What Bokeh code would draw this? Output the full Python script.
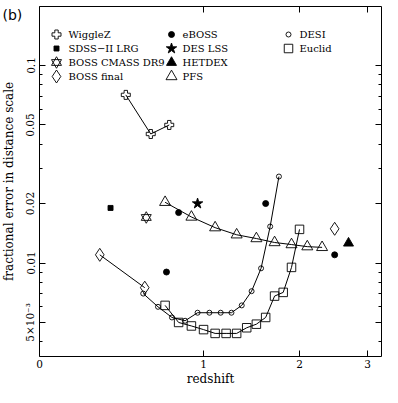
from math import log10
from bokeh.plotting import figure
from bokeh.models import Range1d, FixedTicker, CustomJSTickFormatter, LogAxis, Label
from bokeh.core.properties import value
from bokeh.embed import file_html
from bokeh.resources import INLINE

# ---------------- data (redshift z, fractional error) ----------------
wigglez_z = [0.44, 0.60, 0.73]
wigglez_err = [0.071, 0.045, 0.050]

sdss_z = [0.35]
sdss_err = [0.019]

cmass_z = [0.57]
cmass_err = [0.017]

bossf_z = [0.29, 0.56]
bossf_err = [0.011, 0.0075]
bossf_lya_z = [2.48]
bossf_lya_err = [0.0149]

eboss_z = [0.71, 0.80, 1.60, 2.48]
eboss_err = [0.0090, 0.0180, 0.0200, 0.0110]

des_z = [0.95]
des_err = [0.0200]

hetdex_z = [2.69]
hetdex_err = [0.0126]

pfs_z = [0.7, 0.9, 1.1, 1.3, 1.5, 1.7, 1.9, 2.1, 2.3]
pfs_err = [0.0203, 0.0171, 0.0151, 0.0139, 0.0133, 0.0127, 0.0124, 0.0121, 0.0120]

desi_z = [0.55, 0.65, 0.75, 0.85, 0.95, 1.05, 1.15, 1.25, 1.35, 1.45, 1.55, 1.65, 1.75]
desi_err = [0.0070, 0.0060, 0.0053, 0.0051, 0.0056, 0.0056, 0.0056, 0.0056,
            0.0061, 0.0072, 0.0094, 0.0153, 0.0274]

euclid_z = [0.7, 0.8, 0.9, 1.0, 1.1, 1.2, 1.3, 1.4, 1.5, 1.6, 1.7, 1.8, 1.9, 2.0]
euclid_err = [0.0061, 0.0050, 0.0048, 0.0046, 0.0044, 0.0044, 0.0044, 0.0047,
              0.0049, 0.0053, 0.0068, 0.0071, 0.0095, 0.0148]

x_tick_labels = ["0", "1", "2", "3"]
y_major_ticks = [0.005, 0.01, 0.02, 0.05, 0.1]
y_minor_ticks = [0.004, 0.006, 0.007, 0.008, 0.009, 0.03, 0.04, 0.06, 0.07, 0.08, 0.09]

legend_col1 = ["WiggleZ", "SDSS\u2212II LRG", "BOSS CMASS DR9", "BOSS final"]
legend_col2 = ["eBOSS", "DES LSS", "HETDEX", "PFS"]
legend_col3 = ["DESI", "Euclid"]

# ---------------- layout (canvas pixels) ----------------
W, H = 382, 387
BOX_L, BOX_R, BOX_T, BOX_B = 39, 381, 6, 356     # the drawn plot box
PXDEC_X, PXDEC_Y = 545.0, 197.5                  # pixels per decade
Y_REF_PX, Y_REF_VAL = 65.0, 0.1                  # where 0.1 sits


def px_to_x(px):      # canvas x pixel -> (1+z)
    return 10 ** ((px - BOX_L) / PXDEC_X)


def py_to_y(py):      # canvas y pixel (from top) -> error
    return 10 ** (log10(Y_REF_VAL) - (py - Y_REF_PX) / PXDEC_Y)


XB0, XB1 = px_to_x(BOX_L), px_to_x(BOX_R)
YB0, YB1 = py_to_y(BOX_B), py_to_y(BOX_T)

FONT = "DejaVu Serif"

p = figure(width=W, height=H, x_axis_type="log", y_axis_type="log",
           x_range=Range1d(px_to_x(0), px_to_x(W)),
           y_range=Range1d(py_to_y(H), py_to_y(0)),
           output_backend="svg", toolbar_location=None,
           min_border_left=0, min_border_right=0,
           min_border_top=0, min_border_bottom=0)
p.grid.visible = False
p.outline_line_color = None
p.background_fill_color = "white"
p.border_fill_color = "white"

xticker = FixedTicker(ticks=[1, 2, 3, 4], minor_ticks=[])
yticker = FixedTicker(ticks=y_major_ticks, minor_ticks=y_minor_ticks)

xa = p.xaxis[0]
xa.ticker = xticker
xa.formatter = CustomJSTickFormatter(args=dict(labels=x_tick_labels),
                                     code="return labels[Math.round(tick) - 1];")
xa.axis_label = "redshift"
xa.fixed_location = YB0
xa.bounds = (XB0, XB1)

ya = p.yaxis[0]
ya.ticker = yticker
ya.formatter = CustomJSTickFormatter(
    code="if (Math.abs(tick - 0.005) < 1e-9) { return '5\u00d710\u207b\u00b3'; } return String(tick);")
ya.axis_label = "fractional error in distance scale"
ya.major_label_orientation = "vertical"
ya.fixed_location = XB0
ya.bounds = (YB0, YB1)

for ax in (xa, ya):
    ax.axis_line_color = "black"
    ax.axis_line_width = 1
    ax.major_tick_in = 6
    ax.major_tick_out = 0
    ax.minor_tick_in = 3
    ax.minor_tick_out = 0
    ax.major_tick_line_color = "black"
    ax.minor_tick_line_color = "black"
    ax.major_label_text_font = FONT
    ax.major_label_text_font_size = "10.5px"
    ax.major_label_text_color = "black"
    ax.axis_label_text_font = FONT
    ax.axis_label_text_font_size = "12px"
    ax.axis_label_text_font_style = "normal"
    ax.axis_label_text_color = "black"
xa.major_label_standoff = 3
xa.axis_label_standoff = 1
ya.major_label_standoff = 3
ya.axis_label_standoff = 6

for loc, tk, fixed, bnd in (("above", xticker, YB1, (XB0, XB1)),
                            ("right", yticker, XB1, (YB0, YB1))):
    ax = LogAxis(ticker=tk, fixed_location=fixed, bounds=bnd,
                 formatter=CustomJSTickFormatter(code="return '';"),
                 major_label_text_font_size="0px", major_label_standoff=0,
                 axis_label_standoff=0, axis_line_color="black", axis_line_width=1,
                 major_tick_in=6, major_tick_out=0, minor_tick_in=3, minor_tick_out=0,
                 major_tick_line_color="black", minor_tick_line_color="black")
    p.add_layout(ax, loc)


def opx(zs):
    return [1.0 + z for z in zs]


LW = 0.9


def open_marker(x, y, marker, size):
    p.scatter(x, y, marker=marker, size=size, fill_color=None,
              line_color="black", line_width=LW)


def filled_marker(x, y, marker, size):
    p.scatter(x, y, marker=marker, size=size, fill_color="black",
              line_color="black", line_width=LW)


# lines
for zs, es in ((wigglez_z, wigglez_err), (bossf_z, bossf_err), (pfs_z, pfs_err),
               (desi_z, desi_err), (euclid_z, euclid_err)):
    p.line(opx(zs), es, line_color="black", line_width=1)

# markers
open_marker(opx(wigglez_z), wigglez_err, "plus", 9)
filled_marker(opx(sdss_z), sdss_err, "square", 5)
open_marker(opx(cmass_z), cmass_err, "triangle", 10)
open_marker(opx(cmass_z), cmass_err, "inverted_triangle", 10)
open_marker(opx(bossf_z), bossf_err, "diamond", 13)
open_marker(opx(bossf_lya_z), bossf_lya_err, "diamond", 13)
filled_marker(opx(eboss_z), eboss_err, "circle", 6)
filled_marker(opx(des_z), des_err, "star", 11)
filled_marker(opx(hetdex_z), hetdex_err, "triangle", 10)
open_marker(opx(pfs_z), pfs_err, "triangle", 11)
open_marker(opx(desi_z), desi_err, "circle", 5)
open_marker(opx(euclid_z), euclid_err, "square", 8.5)

# ---------------- legend (canvas pixel positions) ----------------
ROW0, ROWSTEP = 34, 14
cols = [(56, 68, legend_col1,
         [[("plus", 9, False)], [("square", 5, True)],
          [("triangle", 10, False), ("inverted_triangle", 10, False)],
          [("diamond", 13, False)]]),
        (171, 182, legend_col2,
         [[("circle", 6, True)], [("star", 11, True)],
          [("triangle", 10, True)], [("triangle", 11, False)]]),
        (288, 299, legend_col3,
         [[("circle", 5, False)], [("square", 8.5, False)]])]

tx, ty, tt = [], [], []
for mx, txp, labels, markers in cols:
    for i, (lab, mk) in enumerate(zip(labels, markers)):
        py = ROW0 + i * ROWSTEP
        for (m, s, filled) in mk:
            (filled_marker if filled else open_marker)([px_to_x(mx)], [py_to_y(py)], m, s)
        tx.append(px_to_x(txp))
        ty.append(py_to_y(py))
        tt.append(lab)

p.text(x=tx, y=ty, text=tt, text_font=value(FONT), text_font_size="10px",
       text_baseline="middle", text_align="left", text_color="black")

# panel tag (frame spans the whole canvas, so screen units = canvas pixels, y up)
p.add_layout(Label(x=2, y=H - 14, x_units="screen", y_units="screen", text="(b)",
                   text_font="DejaVu Sans", text_font_size="14px",
                   text_baseline="middle", text_align="left", text_color="black"))

open("out.html", "w").write(file_html(p, INLINE))
